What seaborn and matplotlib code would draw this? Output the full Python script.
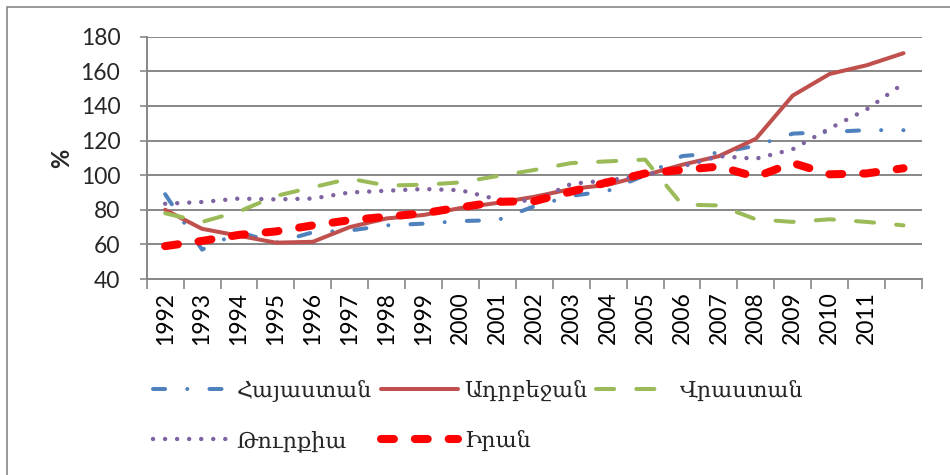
#!/usr/bin/env python

import matplotlib.pyplot as plt
import matplotlib.patches as mpatches
import numpy as np
import pandas as pd
import seaborn as sns

# Index values by year.
years = [1992, 1993, 1994, 1995, 1996, 1997, 1998, 1999, 2000, 2001, 2002,
         2003, 2004, 2005, 2006, 2007, 2008, 2009, 2010, 2011, 2012]
year_labels = [str(y) for y in years[:-1]] + [""]

armenia = [89, 57, 67, 61, 67, 68, 71, 72, 73.5, 74, 82,
           88, 91, 100, 111, 113, 117, 124, 125, 126, 126]
azerbaijan = [80, 69, 65, 61, 61.5, 70, 75, 77, 81, 84, 87.5,
              92, 94.5, 100, 106, 111, 121, 146, 158.5, 163.5, 170.5]
georgia = [78, 73, 79, 88, 93, 98, 94, 94.5, 95.8, 99.5, 103,
           107, 108, 109, 83, 82.5, 74.5, 73, 74.5, 73, 71]
turkey = [83.5, 84.5, 86.5, 86, 86.5, 90, 91, 92, 91.3, 86, 85,
          95, 97, 100, 105, 111, 109.5, 115, 127, 138, 153]
iran = [59, 62, 65.5, 67.5, 71, 74, 76, 78, 81.4, 84.6, 85,
        90.5, 96, 101, 103, 105, 99, 107, 100.5, 101, 104]

names = ["Հայաստան", "Ադրբեջան", "Վրաստան", "Թուրքիա", "Իրան"]
series = [armenia, azerbaijan, georgia, turkey, iran]

df = pd.DataFrame({"year": years})
for name, vals in zip(names, series):
    df[name] = vals

sns.set_theme(style="white")
plt.rcParams["font.family"] = ["Lato", "DejaVu Sans"]
plt.rcParams["lines.dash_capstyle"] = "round"
plt.rcParams["lines.solid_capstyle"] = "round"

# colour, line width (pt), dash pattern (in line widths)
styles = {
    "Հայաստան": ("#4F81BD", 2.9, (0, (3, 5.5, 0.01, 5.5))),
    "Ադրբեջան": ("#C0504D", 2.9, "-"),
    "Վրաստան": ("#9BBB59", 2.9, (0, (4.5, 5.5))),
    "Թուրքիա": ("#8064A2", 3.2, (0, (0.01, 2.7))),
    "Իրան": ("#FF0000", 5.8, (0, (1.6, 2.6))),
}

fig = plt.figure(figsize=(9.5, 4.75), dpi=100)
ax = fig.add_axes([0.1544, 0.4126, 0.9705 - 0.1544, 0.9227 - 0.4126])

for name in names:
    color, lw, ls = styles[name]
    sns.lineplot(data=df, x="year", y=name, ax=ax, color=color,
                 linewidth=lw, linestyle=ls, label=name)

grid_c = "#878787"
ax.set_ylim(40, 180)
ax.set_yticks(np.arange(40, 181, 20))
ax.set_xlim(years[0] - 0.5, years[-1] + 0.5)
ax.set_xticks(years)
ax.set_xticklabels(year_labels, rotation=90)
ax.set_xticks(np.arange(years[0] - 0.5, years[-1] + 1, 1), minor=True)
ax.yaxis.grid(True, color=grid_c, linewidth=1.4)
ax.set_axisbelow(True)
for s in ["top", "right"]:
    ax.spines[s].set_visible(False)
for s in ["left", "bottom"]:
    ax.spines[s].set_color(grid_c)
    ax.spines[s].set_linewidth(1.4)
ax.tick_params(axis="x", which="major", length=0, pad=9, labelsize=16.5,
               colors="black")
ax.tick_params(axis="x", which="minor", length=7, width=1.2, color=grid_c,
               bottom=True)
ax.tick_params(axis="y", length=5, width=1.2, color=grid_c, labelsize=16.5,
               pad=14, left=True)
ax.set_xlabel("")
ax.set_ylabel("")
fig.text(62 / 950, 1 - 158 / 475, "%", rotation=90, ha="center",
         va="center", fontsize=17, fontweight="bold")

# legend: column-major fill, so order gives rows as in the reference
handles, labels = ax.get_legend_handles_labels()
order = [0, 3, 1, 4, 2]
ax.legend([handles[i] for i in order], [labels[i] for i in order],
          ncol=3, loc="upper left", bbox_to_anchor=(153 / 950, 1 - 380 / 475),
          bbox_transform=fig.transFigure, frameon=False, borderpad=0,
          borderaxespad=0, handlelength=3.5, handletextpad=0.25,
          columnspacing=0.4, labelspacing=1.25,
          prop={"family": ["DejaVu Serif", "DejaVu Sans"], "size": 16})

# outer chart frame (only top and left edges visible in the reference)
fig.patches.append(mpatches.Rectangle((7 / 950, -0.1), 1.2, 1.1 - 7 / 475,
                                      transform=fig.transFigure, fill=False,
                                      edgecolor=grid_c, linewidth=1.2))

fig.savefig("out.png", dpi=100)
